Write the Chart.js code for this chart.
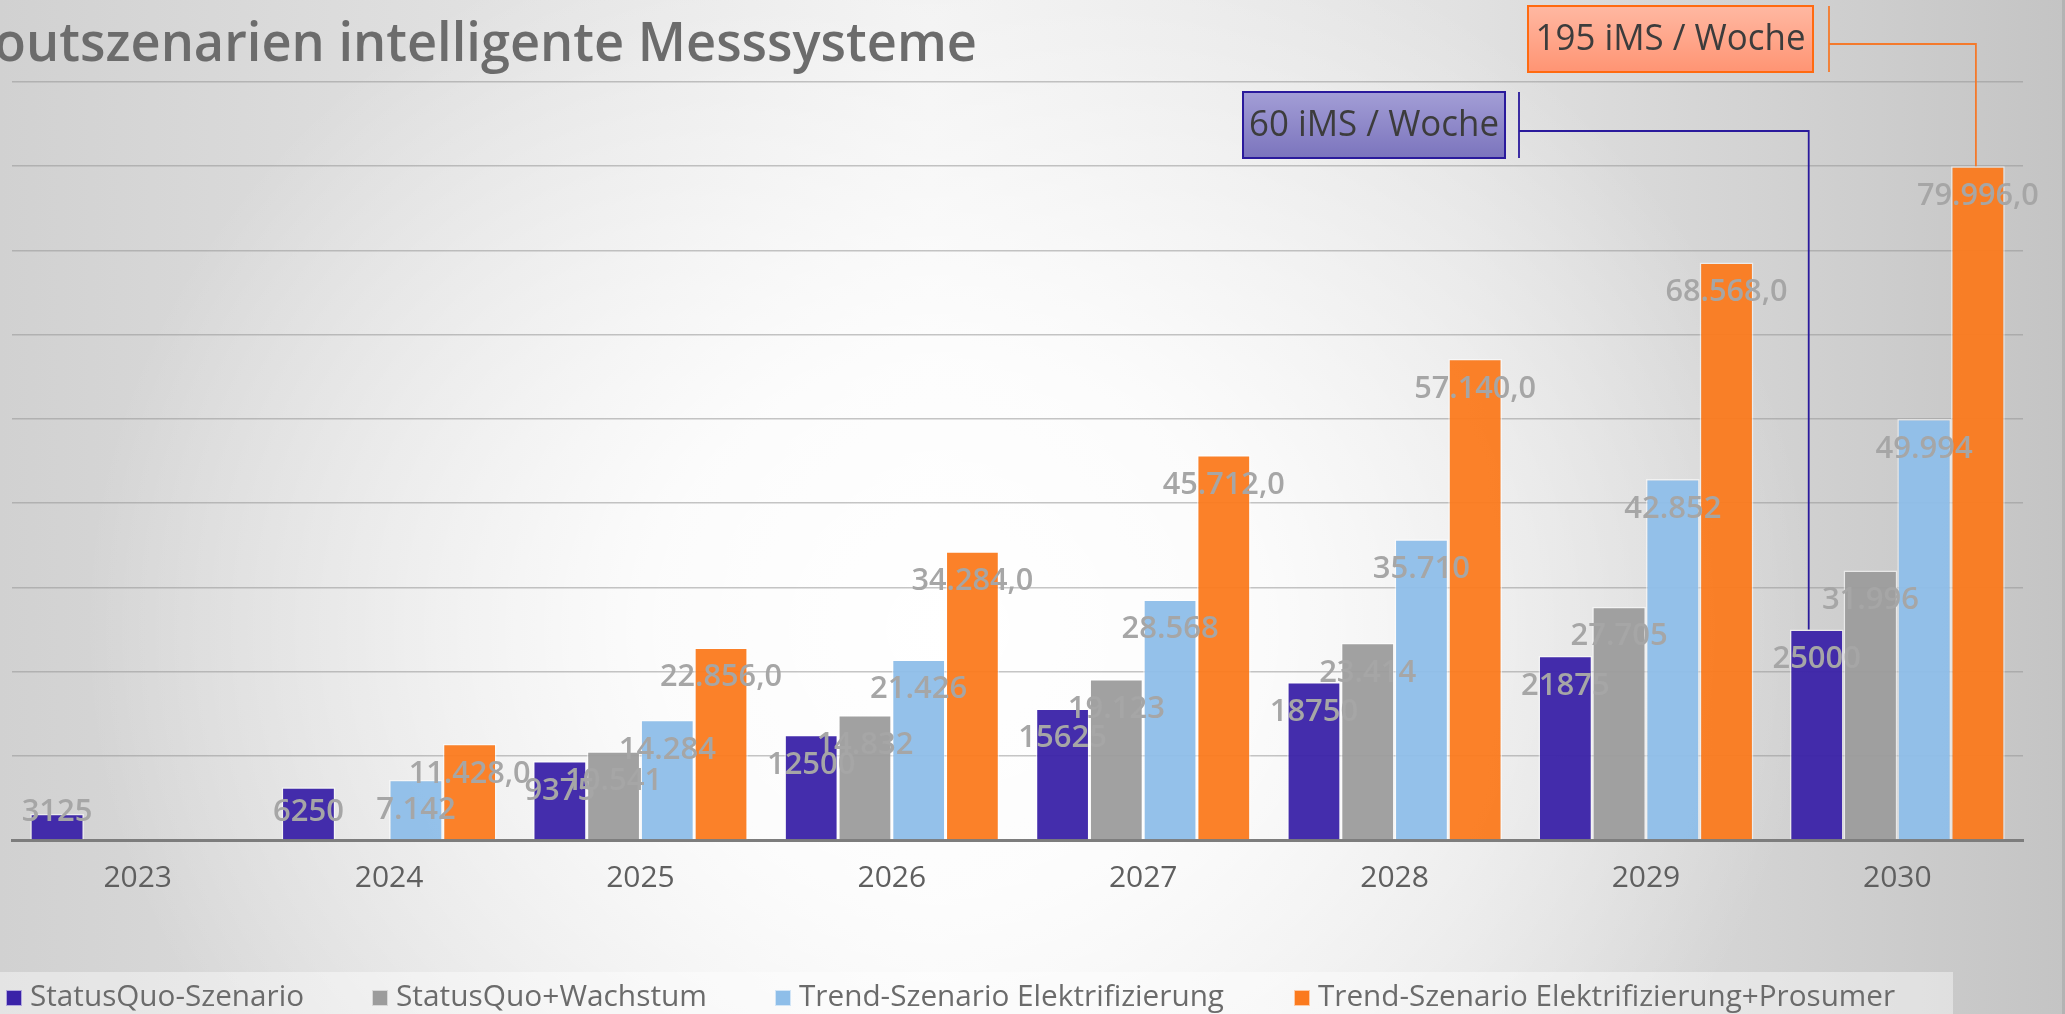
<!DOCTYPE html>
<html><head><meta charset="utf-8">
<script src="https://cdn.jsdelivr.net/npm/chart.js@4.4.1/dist/chart.umd.min.js"></script>
<style>
html,body{margin:0;padding:0;overflow:hidden;}
body{width:2065px;height:1014px;
background:
 radial-gradient(ellipse 42% 75% at 46% 62%, rgba(255,255,255,1) 0%, rgba(255,255,255,0.85) 35%, rgba(255,255,255,0) 100%),
 linear-gradient(90deg,#d1d1d1 0%,#e2e2e2 25%,#f0f0f0 45%,#e2e2e2 70%,#c4c4c4 100%);}
canvas{display:block;}
</style></head><body>
<canvas id="c" width="2065" height="1014"></canvas>
<script>
const categories = ['2023','2024','2025','2026','2027','2028','2029','2030'];
const statusQuo = [3125,6250,9375,12500,15625,18750,21875,25000];
const statusQuoWachstum = [null,null,10541,14832,19123,23414,27705,31996];
const trendElektrifizierung = [null,7142,14284,21426,28568,35710,42852,49994];
const trendProsumer = [null,11428,22856,34284,45712,57140,68568,79996];
const seriesNames = ['StatusQuo-Szenario','StatusQuo+Wachstum','Trend-Szenario Elektrifizierung','Trend-Szenario Elektrifizierung+Prosumer'];
const seriesColors = ['rgba(58,34,168,0.95)','rgba(156,156,156,0.95)','rgba(142,190,233,0.95)','rgba(251,122,30,0.95)'];
const legendColors = ['#3a22a8','#9c9c9c','#8ebee9','#fb7a1e'];
const yMin = 0, yMax = 90000, yStep = 10000;
const titleText = 'Rolloutszenarien intelligente Messsysteme';
const calloutTexts = ['195 iMS / Woche','60 iMS / Woche'];

function groupDigits(n){ return String(n).replace(/\B(?=(\d{3})+(?!\d))/g,'.'); }
const labelFormats = [
  v => String(v),
  v => groupDigits(v),
  v => groupDigits(v),
  v => groupDigits(v) + ',0'
];

const FONT = '"Open Sans", "Noto Sans", sans-serif';

const callouts = [
  {text: calloutTexts[0], series:3, index:7, box:[1528,6,285,66], textW:270, fill:['#ffb8a2','#ff9473'], stroke:'#ff6a10', line:'#f47a2c', bracketX:1829, elbowY:44, dx:-2},
  {text: calloutTexts[1], series:0, index:7, box:[1243,92,262,66], textW:250, fill:['#a39ed6','#7b74bd'], stroke:'#2a1a9c', line:'#2a1a9c', bracketX:1519, elbowY:131, dx:-8}
];

function fitText(ctx, text, x, y, targetW, align){
  const w = ctx.measureText(text).width;
  const s = Math.min(1, targetW / w);
  ctx.save();
  ctx.translate(x, y);
  ctx.scale(s, 1);
  ctx.textAlign = align;
  ctx.fillText(text, 0, 0);
  ctx.restore();
}

const decor = {
  id:'decor',
  beforeDraw(chart){
    const ctx = chart.ctx;
    ctx.save();
    ctx.fillStyle = 'rgba(255,255,255,0.42)';
    ctx.fillRect(0,972,1953,42);
    ctx.fillStyle = 'rgba(150,150,150,0.35)';
    ctx.fillRect(2062,0,3,1014);
    const part = 'utszenarien intelligente Messsysteme';
    ctx.font = '600 54px ' + FONT;
    const w = ctx.measureText(part).width;
    const s = 951 / w;
    ctx.fillStyle = '#6c6c6c';
    ctx.textAlign = 'right';
    ctx.textBaseline = 'alphabetic';
    ctx.translate(977, 61);
    ctx.scale(s, 1);
    ctx.fillText(titleText, 0, 0);
    ctx.restore();
  },
  afterDatasetsDraw(chart){
    const ctx = chart.ctx;
    const bottom = chart.chartArea.bottom;
    ctx.save();
    ctx.font = '600 31px ' + FONT;
    ctx.fillStyle = '#a6a6a6';
    ctx.textAlign = 'center';
    ctx.textBaseline = 'middle';
    chart.data.datasets.forEach((ds, di) => {
      const meta = chart.getDatasetMeta(di);
      ds.data.forEach((v, i) => {
        if (v === null) return;
        const el = meta.data[i];
        const y = Math.min(el.y + 30, bottom - 28);
        const t = labelFormats[di](v);
        fitText(ctx, t, el.x, y, 122, 'center');
      });
    });
    ctx.restore();
  },
  afterDraw(chart){
    const ctx = chart.ctx;
    ctx.save();
    const boxX = [6,372,775,1294];
    const textW = [274,311,425,577];
    ctx.font = '400 30px ' + FONT;
    ctx.textBaseline = 'alphabetic';
    seriesNames.forEach((n,i) => {
      ctx.fillStyle = legendColors[i];
      ctx.fillRect(boxX[i], 990, 16, 16);
      ctx.strokeStyle = 'rgba(255,255,255,0.6)';
      ctx.lineWidth = 1;
      ctx.strokeRect(boxX[i]+0.5, 990.5, 15, 15);
      ctx.fillStyle = '#6b6b6b';
      fitText(ctx, n, boxX[i] + 24, 1006, textW[i], 'left');
    });
    callouts.forEach(c => {
      const el = chart.getDatasetMeta(c.series).data[c.index];
      const [bx,by,bw,bh] = c.box;
      const g = ctx.createLinearGradient(0,by,0,by+bh);
      g.addColorStop(0,c.fill[0]); g.addColorStop(1,c.fill[1]);
      ctx.fillStyle = g;
      ctx.fillRect(bx,by,bw,bh);
      ctx.strokeStyle = c.stroke; ctx.lineWidth = 2;
      ctx.strokeRect(bx,by,bw,bh);
      ctx.fillStyle = '#3c3c3c';
      ctx.font = '400 36px ' + FONT;
      ctx.textBaseline = 'middle';
      fitText(ctx, c.text, bx + bw/2, by + bh/2 + 1, c.textW, 'center');
      ctx.strokeStyle = c.line; ctx.lineWidth = 1.8;
      ctx.beginPath();
      ctx.moveTo(c.bracketX, by); ctx.lineTo(c.bracketX, by+bh);
      ctx.moveTo(c.bracketX, c.elbowY);
      ctx.lineTo(el.x + c.dx, c.elbowY);
      ctx.lineTo(el.x + c.dx, el.y);
      ctx.stroke();
    });
    ctx.restore();
  }
};

const seriesData = [statusQuo, statusQuoWachstum, trendElektrifizierung, trendProsumer];

new Chart(document.getElementById('c'), {
  type:'bar',
  data:{
    labels: categories,
    datasets: seriesData.map((d,i) => ({
      label: seriesNames[i],
      data: d,
      backgroundColor: seriesColors[i],
      borderColor: 'rgba(255,255,255,0.55)',
      borderWidth: 1.5,
      categoryPercentage: 0.855,
      barPercentage: 1.0
    }))
  },
  options:{
    responsive:false,
    animation:false,
    devicePixelRatio:1,
    layout:{padding:{left:12,right:42,top:82,bottom:98}},
    plugins:{legend:{display:false},tooltip:{enabled:false},title:{display:false}},
    scales:{
      x:{
        grid:{display:false, drawTicks:false},
        border:{display:true,color:'#7d7d7d',width:3},
        ticks:{color:'#5f5f5f',font:{family:FONT,size:30,weight:'400'},padding:20}
      },
      y:{
        min:yMin, max:yMax,
        ticks:{display:false, stepSize:yStep},
        grid:{color:'rgba(150,150,150,0.55)', lineWidth:1.5, drawTicks:false},
        border:{display:false}
      }
    }
  },
  plugins:[decor]
});
</script>
</body></html>
